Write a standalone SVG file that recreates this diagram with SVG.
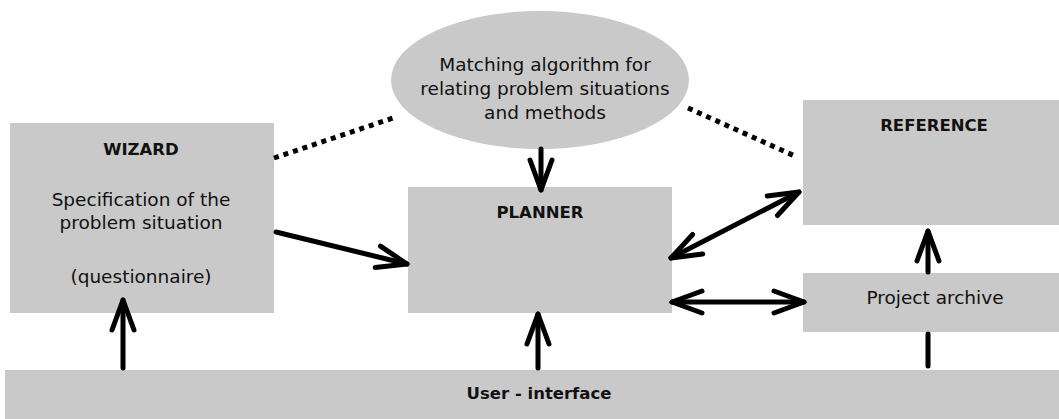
<svg xmlns="http://www.w3.org/2000/svg" width="1059" height="419" viewBox="0 0 1059 419">
  <style>
    .box { fill: #c9c9c9; }
    .t { font-family: "DejaVu Sans", "Liberation Sans", sans-serif; font-size: 18.5px; fill: #111; text-anchor: middle; }
    .b { font-family: "DejaVu Sans", "Liberation Sans", sans-serif; font-size: 16.5px; font-weight: bold; fill: #111; text-anchor: middle; }
    .ln { stroke: #000; stroke-width: 5; fill: none; stroke-linecap: round; }
    .dot { stroke: #000; stroke-width: 5; fill: none; stroke-dasharray: 5 5; }
  </style>
  <defs>
    <marker id="ah" markerUnits="userSpaceOnUse" markerWidth="40" markerHeight="30" refX="0" refY="0" viewBox="-36 -15 40 30" orient="auto-start-reverse" overflow="visible">
      <path d="M -30 -11 L 0 0 L -30 11" fill="none" stroke="#000" stroke-width="5" stroke-linecap="round" stroke-linejoin="round"/>
    </marker>
  </defs>

  <g id="user-interface">
    <rect class="box" x="5" y="370" width="1054" height="49"/>
    <text class="b" x="539" y="399">User - interface</text>
  </g>

  <g id="wizard">
    <rect class="box" x="10" y="123" width="264" height="190"/>
    <text class="b" x="141" y="155">WIZARD</text>
    <text class="t" x="141" y="206">Specification of the</text>
    <text class="t" x="141" y="229">problem situation</text>
    <text class="t" x="141" y="283">(questionnaire)</text>
  </g>

  <g id="matching">
    <ellipse class="box" cx="540" cy="80" rx="149" ry="69"/>
    <text class="t" x="545" y="71">Matching algorithm for</text>
    <text class="t" x="545" y="95">relating problem situations</text>
    <text class="t" x="545" y="119">and methods</text>
  </g>

  <g id="planner">
    <rect class="box" x="408" y="187" width="264" height="126"/>
    <text class="b" x="540" y="218">PLANNER</text>
  </g>

  <g id="reference">
    <rect class="box" x="803" y="100" width="256" height="125"/>
    <text class="b" x="934" y="131">REFERENCE</text>
  </g>

  <g id="archive">
    <rect class="box" x="803" y="273" width="256" height="59"/>
    <text class="t" x="935" y="304">Project archive</text>
  </g>

  <g id="connectors">
    <line class="dot" x1="274" y1="158" x2="396" y2="117"/>
    <line class="dot" x1="688" y1="108" x2="797" y2="157"/>
    <line class="ln" x1="541" y1="149" x2="541" y2="190" marker-end="url(#ah)"/>
    <line class="ln" x1="276" y1="232" x2="407" y2="264" marker-end="url(#ah)"/>
    <line class="ln" x1="671" y1="258" x2="799" y2="192" marker-start="url(#ah)" marker-end="url(#ah)"/>
    <line class="ln" x1="672" y1="302" x2="804" y2="302" marker-start="url(#ah)" marker-end="url(#ah)"/>
    <line class="ln" x1="123" y1="368" x2="123" y2="300" marker-end="url(#ah)"/>
    <line class="ln" x1="538" y1="368" x2="538" y2="314" marker-end="url(#ah)"/>
    <line class="ln" x1="928" y1="272" x2="928" y2="231" marker-end="url(#ah)"/>
    <line class="ln" x1="928" y1="334" x2="928" y2="366"/>
  </g>
</svg>
